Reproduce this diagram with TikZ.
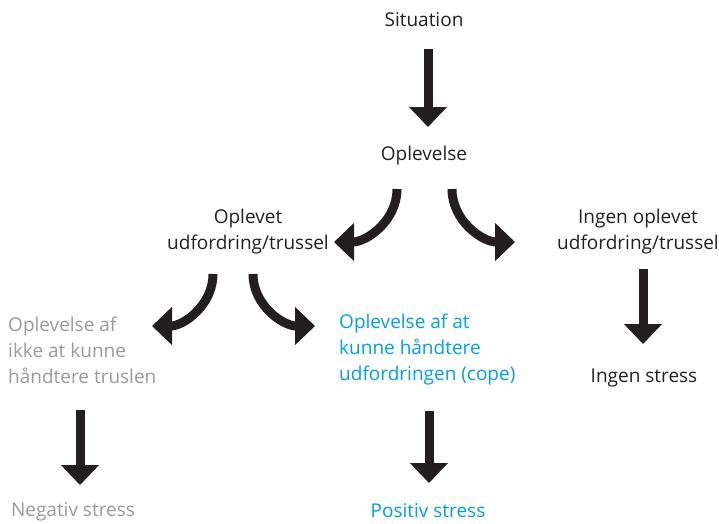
\documentclass[tikz,border=0pt]{standalone}
\usepackage{fontspec}
\setmainfont{Open Sans}
\usetikzlibrary{arrows.meta}
\definecolor{ink}{HTML}{231F20}
\definecolor{grytxt}{HTML}{9A9A9A}
\definecolor{bluetxt}{HTML}{00A0E3}
\tikzset{
  txt/.style={inner sep=0pt, font=\fontsize{19}{26}\selectfont, text=ink},
  bigarrow/.style={draw=ink, line width=9pt, -{Triangle[width=37pt,length=20pt]}},
}
\begin{document}
\begin{tikzpicture}[x=1pt,y=-1pt]
\useasboundingbox (0,0) rectangle (719,523);
\node[txt] (sit) at (424,20) {Situation};
\node[txt] (opl) at (424,156) {Oplevelse};
\node[txt, align=center] (opt) at (248,232) {Oplevet\\udfordring/trussel};
\node[txt, align=center] (ing) at (638,232) {Ingen oplevet\\udfordring/trussel};
\node[txt, text=grytxt, align=left, anchor=west] (neg) at (8,350) {Oplevelse af\\ikke at kunne\\håndtere truslen};
\node[txt, text=bluetxt, align=left, anchor=west] (pos) at (339,350) {Oplevelse af at\\kunne håndtere\\udfordringen (cope)};
\node[txt] (ingst) at (644,378) {Ingen stress};
\node[txt, text=grytxt] (negst) at (73,512) {Negativ stress};
\node[txt, text=bluetxt] (posst) at (428,511) {Positiv stress};

\draw[bigarrow] ([xshift=4pt,yshift=-29pt]sit.center) -- ([xshift=4pt,yshift=29pt]opl.center);
\draw[bigarrow] ([xshift=-27pt,yshift=-33pt]opl.center) to[out=-90,in=0] ([xshift=86pt,yshift=-10pt]opt.center);
\draw[bigarrow] ([xshift=28pt,yshift=-33pt]opl.center) to[out=-90,in=180] ([xshift=-123pt,yshift=-10pt]ing.center);
\draw[bigarrow] ([xshift=-35pt,yshift=-42pt]opt.center) to[out=-90,in=0] ([xshift=144pt,yshift=24pt]neg.west);
\draw[bigarrow] ([xshift=5pt,yshift=-42pt]opt.center) to[out=-90,in=180] ([xshift=-24pt,yshift=24pt]pos.west);
\draw[bigarrow] ([xshift=5pt,yshift=-37pt]ing.center) -- ([xshift=-1pt,yshift=34pt]ingst.center);
\draw[bigarrow] ([xshift=72pt,yshift=-60pt]neg.west) -- ([xshift=7pt,yshift=27pt]negst.center);
\draw[bigarrow] ([xshift=90pt,yshift=-61pt]pos.west) -- ([xshift=1pt,yshift=28pt]posst.center);
\end{tikzpicture}
\end{document}
